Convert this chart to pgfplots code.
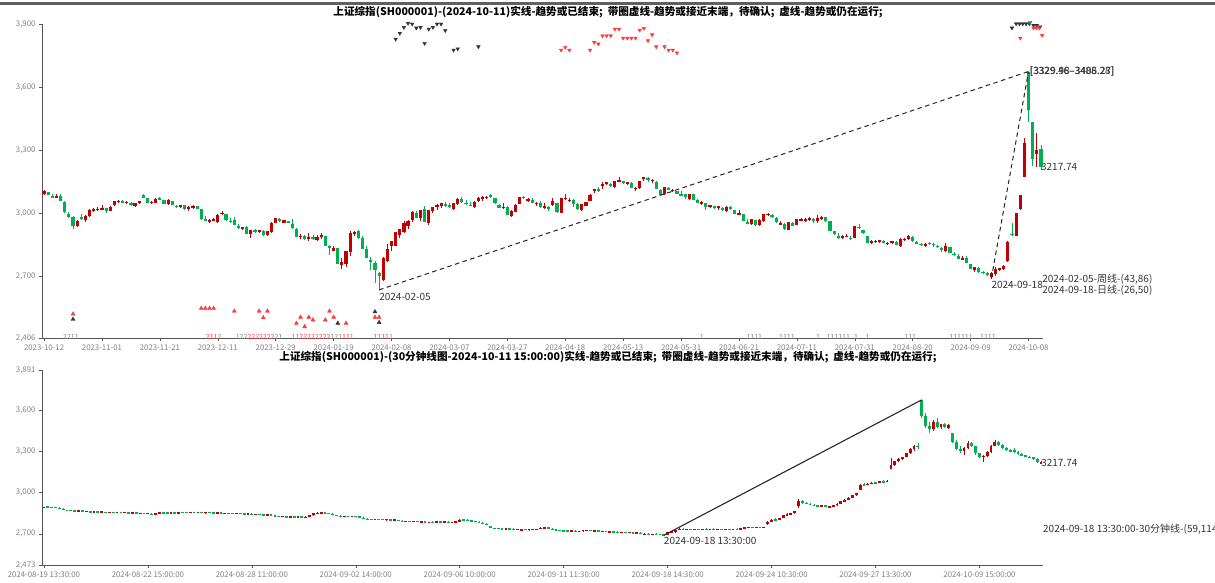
\documentclass[border=0pt]{standalone}
\usepackage{pgfplots}
\pgfplotsset{compat=1.18}
\usepackage{pgfplotstable}
\usepackage{fontspec}
\setmainfont{Noto Sans CJK SC}
\definecolor{cup}{HTML}{C00000}
\definecolor{cdn}{HTML}{00B050}
\definecolor{mred}{HTML}{FF3B3B}
\definecolor{mblk}{HTML}{333333}
\definecolor{axgray}{HTML}{555555}
\definecolor{lblgray}{HTML}{808080}
\definecolor{txt}{HTML}{333333}

% daily candles: index (trading day since 2023-10-12), open, high, low, close
\pgfplotstableread{
i o h l c
0 3089 3108 3085 3107
1 3102 3103 3085 3088
2 3083 3092 3071 3074
3 3073 3091 3070 3084
4 3083 3089 3057 3058
5 3051 3060 3003 3005
6 2998 3004 2975 2983
7 2983 2988 2923 2939
8 2939 2969 2933 2962
9 2983 2994 2967 2974
10 2968 2993 2960 2988
11 2986 3022 2983 3017
12 3009 3025 3005 3021
13 3018 3030 3010 3018
14 3021 3037 3013 3023
15 3024 3026 3003 3009
16 3011 3034 3008 3030
17 3040 3060 3036 3058
18 3056 3062 3047 3057
19 3055 3063 3050 3052
20 3050 3059 3045 3053
21 3050 3055 3036 3038
22 3034 3049 3027 3046
23 3046 3059 3045 3056
24 3085 3089 3072 3073
25 3070 3073 3049 3050
26 3048 3056 3042 3054
27 3050 3073 3049 3068
28 3069 3078 3065 3068
29 3063 3064 3043 3044
30 3044 3068 3040 3062
31 3059 3060 3040 3041
32 3035 3039 3023 3031
33 3030 3040 3025 3038
34 3040 3041 3016 3021
35 3018 3035 3010 3030
36 3026 3039 3022 3032
37 3032 3035 3021 3022
38 3018 3019 2968 2972
39 2970 2988 2963 2966
40 2964 2974 2954 2966
41 2965 2976 2961 2970
42 2960 2996 2955 2991
43 2996 3008 2989 3003
44 2994 2997 2965 2968
45 2965 2979 2953 2958
46 2966 2982 2942 2942
47 2940 2947 2926 2930
48 2925 2936 2921 2932
49 2934 2939 2902 2902
50 2900 2921 2882 2918
51 2918 2925 2906 2914
52 2913 2920 2905 2918
53 2917 2920 2893 2898
54 2896 2915 2889 2915
55 2909 2957 2906 2954
56 2953 2976 2952 2975
57 2972 2977 2960 2962
58 2955 2969 2952 2967
59 2963 2965 2952 2954
60 2950 2974 2924 2929
61 2925 2928 2885 2888
62 2887 2900 2878 2893
63 2892 2894 2872 2878
64 2877 2904 2869 2886
65 2885 2898 2874 2882
66 2871 2898 2869 2886
67 2886 2906 2878 2894
68 2889 2890 2844 2845
69 2843 2847 2803 2833
70 2822 2844 2818 2832
71 2832 2833 2756 2756
72 2755 2785 2736 2770
73 2759 2821 2745 2820
74 2814 2913 2798 2906
75 2899 2913 2889 2910
76 2914 2918 2879 2883
77 2880 2890 2830 2831
78 2829 2845 2788 2789
79 2779 2790 2730 2770
80 2761 2772 2666 2730
81 2713 2722 2635 2702
82 2680 2792 2677 2789
83 2772 2852 2770 2829
84 2842 2867 2821 2866
85 2843 2910 2842 2910
86 2895 2923 2883 2923
87 2911 2963 2904 2951
88 2941 2966 2927 2964
89 2966 3012 2957 3004
90 2999 3009 2977 2977
91 2975 3016 2964 3015
92 3019 3033 2957 2957
93 2953 3015 2946 3015
94 3010 3029 3002 3027
95 3031 3042 3016 3039
96 3034 3050 3025 3048
97 3042 3052 3029 3040
98 3041 3048 3025 3027
99 3021 3047 3014 3046
100 3043 3071 3039 3068
101 3068 3075 3047 3055
102 3050 3063 3040 3044
103 3040 3052 3034 3038
104 3027 3058 3025 3054
105 3058 3077 3055 3073
106 3066 3080 3060 3079
107 3075 3082 3066 3077
108 3088 3091 3070 3077
109 3072 3074 3043 3048
110 3041 3045 3025 3026
111 3023 3046 3020 3031
112 3030 3036 2993 2993
113 2988 3014 2980 3010
114 3005 3044 3004 3041
115 3044 3077 3043 3077
116 3076 3082 3066 3074
117 3060 3074 3055 3069
118 3062 3071 3046 3048
119 3044 3055 3036 3048
120 3048 3057 3025 3027
121 3023 3046 3021 3034
122 3028 3035 3009 3019
123 3039 3070 3033 3057
124 3048 3048 3002 3007
125 3003 3071 3003 3071
126 3070 3093 3065 3074
127 3060 3072 3052 3065
128 3062 3066 3030 3045
129 3045 3047 3014 3022
130 3017 3045 3010 3044
131 3035 3053 3034 3052
132 3060 3092 3058 3088
133 3104 3114 3095 3113
134 3113 3123 3099 3105
135 3128 3147 3117 3141
136 3142 3149 3135 3148
137 3138 3142 3125 3128
138 3124 3154 3120 3154
139 3155 3170 3150 3155
140 3150 3154 3141 3148
141 3143 3149 3135 3145
142 3144 3150 3119 3119
143 3116 3125 3105 3122
144 3121 3154 3117 3154
145 3164 3174 3155 3171
146 3165 3170 3150 3157
147 3154 3162 3145 3158
148 3150 3152 3115 3116
149 3110 3116 3086 3088
150 3093 3125 3088 3125
151 3121 3124 3108 3110
152 3108 3117 3100 3111
153 3104 3104 3089 3092
154 3090 3106 3083 3087
155 3090 3092 3068 3078
156 3068 3091 3062 3091
157 3089 3092 3065 3065
158 3063 3067 3047 3048
159 3046 3058 3041 3051
160 3047 3050 3017 3028
161 3030 3040 3025 3037
162 3033 3036 3021 3029
163 3025 3034 3016 3033
164 3025 3029 3009 3015
165 3012 3032 3006 3030
166 3031 3033 3013 3018
167 3016 3017 2998 2998
168 2995 3016 2990 2998
169 2994 2997 2962 2963
170 2958 2970 2949 2950
171 2947 2974 2943 2972
172 2966 2968 2941 2946
173 2944 2971 2941 2967
174 2961 2996 2957 2995
175 2992 3000 2986 2998
176 2990 2996 2979 2982
177 2976 2980 2954 2957
178 2950 2963 2944 2950
179 2950 2953 2922 2923
180 2921 2960 2921 2960
181 2955 2958 2937 2939
182 2943 2971 2942 2970
183 2968 2979 2961 2971
184 2963 2976 2959 2974
185 2972 2980 2965 2976
186 2970 2977 2955 2962
187 2962 2991 2955 2977
188 2971 2988 2966 2982
189 2980 2982 2958 2964
190 2962 2963 2913 2915
191 2913 2915 2895 2901
192 2890 2906 2878 2886
193 2883 2898 2876 2890
194 2889 2900 2886 2891
195 2884 2893 2874 2879
196 2881 2940 2880 2938
197 2935 2947 2926 2932
198 2919 2922 2902 2905
199 2889 2890 2859 2860
200 2857 2872 2853 2868
201 2865 2874 2857 2869
202 2862 2873 2856 2870
203 2868 2874 2860 2862
204 2857 2863 2849 2858
205 2856 2869 2854 2868
206 2865 2868 2850 2850
207 2846 2882 2841 2877
208 2871 2884 2866 2879
209 2878 2896 2874 2893
210 2888 2891 2865 2866
211 2860 2868 2854 2857
212 2854 2859 2844 2849
213 2844 2859 2839 2855
214 2858 2864 2850 2855
215 2855 2860 2841 2848
216 2846 2849 2836 2837
217 2832 2839 2815 2823
218 2819 2856 2817 2842
219 2838 2840 2810 2811
220 2805 2814 2798 2802
221 2795 2804 2780 2784
222 2780 2795 2777 2788
223 2786 2795 2764 2765
224 2759 2760 2733 2736
225 2729 2746 2720 2744
226 2738 2742 2717 2721
227 2722 2725 2710 2717
228 2716 2720 2703 2704
229 2697 2720 2689 2717
230 2712 2742 2703 2736
231 2736 2741 2726 2736
232 2734 2751 2730 2748
233 2771 2866 2767 2863
234 2901 2952 2889 2896
235 2893 3000 2889 3000
236 3018 3088 3017 3087
237 3174 3359 3174 3336
238 3674 3674 3432 3489
239 3434 3434 3225 3258
240 3280 3381 3219 3301
241 3307 3323 3205 3218
}\daily

% 30-minute candles: index (bar since 2024-08-19 13:30), open, high, low, close
\pgfplotstableread{
i o h l c
0 2894 2897 2891 2896
1 2896 2898 2893 2895
2 2895 2897 2892 2894
3 2894 2896 2890 2893
4 2890 2893 2880 2882
5 2882 2884 2872 2874
6 2874 2876 2868 2870
7 2870 2873 2866 2869
8 2869 2871 2864 2867
9 2867 2870 2864 2868
10 2868 2870 2863 2865
11 2865 2868 2863 2866
12 2864 2866 2858 2860
13 2860 2863 2857 2861
14 2861 2863 2858 2859
15 2859 2862 2857 2860
16 2860 2862 2857 2858
17 2858 2861 2856 2859
18 2859 2861 2856 2857
19 2857 2860 2855 2858
20 2857 2859 2853 2855
21 2855 2858 2853 2856
22 2856 2858 2852 2853
23 2853 2856 2851 2854
24 2854 2856 2849 2850
25 2850 2853 2847 2851
26 2851 2853 2846 2848
27 2848 2852 2845 2849
28 2846 2848 2840 2843
29 2843 2849 2841 2847
30 2845 2858 2844 2856
31 2856 2859 2851 2853
32 2853 2856 2850 2852
33 2852 2855 2849 2854
34 2854 2857 2851 2853
35 2853 2857 2851 2855
36 2857 2860 2853 2856
37 2856 2859 2852 2854
38 2854 2858 2852 2857
39 2857 2860 2854 2855
40 2855 2858 2853 2856
41 2856 2859 2853 2854
42 2854 2857 2852 2856
43 2856 2858 2853 2855
44 2855 2858 2852 2853
45 2853 2856 2850 2854
46 2854 2856 2850 2851
47 2851 2854 2848 2852
48 2852 2854 2848 2850
49 2850 2853 2847 2849
50 2849 2852 2846 2850
51 2850 2852 2846 2848
52 2847 2849 2843 2845
53 2845 2848 2842 2846
54 2846 2848 2841 2843
55 2843 2846 2840 2844
56 2844 2846 2838 2840
57 2840 2843 2836 2838
58 2838 2841 2835 2839
59 2839 2841 2835 2837
60 2834 2836 2826 2828
61 2828 2831 2824 2826
62 2826 2829 2823 2827
63 2827 2829 2822 2824
64 2824 2828 2822 2826
65 2826 2828 2821 2823
66 2823 2827 2821 2825
67 2825 2827 2820 2823
68 2821 2826 2817 2824
69 2824 2836 2822 2834
70 2834 2850 2832 2848
71 2848 2856 2845 2853
72 2853 2857 2849 2855
73 2855 2857 2850 2852
74 2852 2854 2843 2845
75 2845 2848 2840 2842
76 2838 2840 2830 2832
77 2832 2834 2826 2828
78 2828 2831 2825 2829
79 2829 2831 2825 2827
80 2827 2830 2825 2828
81 2828 2830 2824 2826
82 2826 2828 2815 2817
83 2817 2819 2810 2811
84 2808 2812 2803 2806
85 2806 2809 2802 2804
86 2804 2808 2801 2806
87 2806 2810 2803 2805
88 2805 2808 2801 2803
89 2803 2807 2800 2805
90 2805 2807 2801 2802
91 2802 2806 2799 2803
92 2800 2802 2792 2794
93 2794 2797 2790 2792
94 2792 2795 2788 2793
95 2793 2795 2789 2790
96 2790 2793 2786 2791
97 2791 2793 2786 2788
98 2788 2791 2784 2789
99 2789 2791 2782 2784
100 2783 2789 2780 2787
101 2787 2790 2783 2785
102 2785 2789 2782 2788
103 2788 2791 2784 2786
104 2786 2789 2782 2787
105 2787 2790 2783 2785
106 2785 2788 2781 2786
107 2786 2790 2784 2788
108 2790 2806 2788 2803
109 2803 2807 2798 2801
110 2801 2804 2794 2796
111 2796 2799 2790 2792
112 2792 2795 2786 2788
113 2788 2790 2780 2782
114 2782 2785 2772 2774
115 2774 2777 2763 2765
116 2759 2760 2740 2742
117 2742 2745 2736 2740
118 2740 2743 2735 2739
119 2739 2742 2735 2737
120 2737 2741 2733 2738
121 2738 2741 2734 2736
122 2736 2739 2732 2735
123 2735 2738 2733 2736
124 2730 2735 2720 2732
125 2732 2736 2728 2731
126 2731 2735 2727 2733
127 2733 2737 2729 2734
128 2734 2738 2730 2736
129 2736 2746 2734 2744
130 2744 2747 2740 2745
131 2745 2747 2741 2744
132 2738 2742 2728 2730
133 2730 2733 2725 2727
134 2727 2730 2722 2724
135 2724 2727 2719 2722
136 2722 2725 2717 2720
137 2720 2724 2717 2722
138 2722 2724 2718 2719
139 2719 2723 2717 2721
140 2722 2728 2718 2726
141 2726 2729 2722 2727
142 2727 2729 2721 2723
143 2723 2726 2719 2724
144 2724 2726 2717 2719
145 2719 2722 2714 2720
146 2720 2722 2715 2716
147 2716 2719 2712 2717
148 2716 2720 2711 2714
149 2714 2717 2710 2712
150 2712 2715 2708 2713
151 2713 2715 2709 2710
152 2710 2713 2706 2711
153 2711 2713 2706 2707
154 2707 2710 2704 2708
155 2708 2710 2703 2704
156 2697 2703 2693 2700
157 2700 2704 2696 2698
158 2698 2702 2694 2700
159 2700 2703 2695 2697
160 2697 2700 2692 2695
161 2695 2698 2689 2693
162 2693 2712 2692 2710
163 2710 2720 2706 2717
164 2712 2730 2703 2726
165 2726 2742 2724 2738
166 2738 2741 2731 2733
167 2733 2736 2729 2735
168 2735 2738 2731 2733
169 2733 2736 2729 2734
170 2734 2737 2731 2732
171 2732 2737 2730 2736
172 2736 2740 2732 2734
173 2734 2738 2731 2736
174 2736 2739 2732 2733
175 2733 2737 2730 2735
176 2735 2738 2731 2732
177 2732 2736 2728 2734
178 2734 2737 2730 2733
179 2733 2738 2731 2736
180 2734 2740 2730 2732
181 2732 2742 2730 2740
182 2740 2748 2738 2746
183 2746 2752 2743 2749
184 2749 2752 2744 2746
185 2746 2750 2742 2748
186 2748 2751 2743 2745
187 2745 2751 2743 2748
188 2771 2790 2767 2786
189 2786 2806 2783 2803
190 2803 2812 2795 2799
191 2799 2818 2797 2815
192 2815 2838 2812 2835
193 2835 2848 2830 2844
194 2844 2852 2838 2848
195 2848 2866 2845 2863
196 2901 2952 2889 2940
197 2940 2944 2920 2925
198 2925 2930 2914 2918
199 2918 2922 2906 2910
200 2910 2914 2902 2905
201 2905 2909 2898 2903
202 2903 2910 2896 2908
203 2908 2911 2893 2896
204 2893 2905 2889 2902
205 2902 2912 2898 2909
206 2909 2925 2905 2920
207 2920 2940 2917 2936
208 2936 2952 2930 2948
209 2948 2966 2945 2962
210 2962 2985 2958 2980
211 2980 3000 2976 3000
212 3018 3062 3017 3058
213 3058 3066 3048 3055
214 3055 3068 3052 3065
215 3065 3078 3060 3073
216 3073 3080 3066 3069
217 3069 3085 3066 3081
218 3081 3088 3074 3078
219 3078 3089 3075 3087
220 3174 3250 3170 3200
221 3200 3232 3190 3228
222 3228 3250 3220 3245
223 3245 3262 3238 3258
224 3258 3290 3255 3285
225 3285 3322 3280 3315
226 3315 3345 3305 3338
227 3338 3359 3320 3336
228 3674 3674 3540 3560
229 3560 3575 3470 3485
230 3485 3510 3432 3460
231 3460 3530 3450 3515
232 3515 3540 3470 3478
233 3478 3500 3465 3495
234 3495 3505 3470 3476
235 3470 3500 3465 3489
236 3434 3434 3360 3370
237 3370 3380 3310 3318
238 3318 3335 3290 3300
239 3300 3330 3270 3325
240 3325 3372 3318 3362
241 3362 3368 3330 3335
242 3335 3340 3275 3285
243 3285 3290 3250 3258
244 3260 3275 3219 3268
245 3268 3300 3262 3295
246 3295 3345 3290 3340
247 3340 3381 3335 3370
248 3370 3374 3340 3345
249 3345 3350 3320 3325
250 3325 3330 3305 3310
251 3310 3315 3296 3301
252 3307 3323 3290 3295
253 3295 3300 3275 3280
254 3280 3288 3265 3270
255 3270 3275 3255 3262
256 3262 3268 3250 3255
257 3255 3260 3240 3245
258 3245 3250 3218 3220
259 3215 3228 3205 3218
}\mins

\pgfplotsset{
  kaxis/.style={
    scale only axis, width=1001pt,
    axis x line*=bottom, axis y line*=left,
    axis line style={axgray, line width=0.6pt},
    every tick/.style={axgray, line width=0.5pt},
    major tick length=3pt, tick align=outside,
    ticklabel style={font=\fontsize{7.8}{9}\selectfont, text=lblgray},
    clip=false,
  },
  candle/.style 2 args={draw=none, mark=none, forget plot,
    error bars/y dir=both, error bars/y explicit, error bars/error mark=none,
    error bars/error bar style={line width=#2, draw=#1, solid}},
}
\newcommand{\anfont}{\fontsize{10}{12}\selectfont}
\newcommand{\nfont}{\fontsize{7}{8}\selectfont}

\begin{document}
\begin{tikzpicture}
\useasboundingbox (0,0) rectangle (1215pt,-582pt);
\draw[line width=3pt, color=gray!75!black] (0,-3pt) -- (1215pt,-3pt);

\node[font=\fontsize{10.6}{12}\selectfont\bfseries, text=black] at (608pt,-12pt)
  {上证综指(SH000001)-(2024-10-11)实线-趋势或已结束; \ 带圈虚线-趋势或接近末端，待确认; \ 虚线-趋势或仍在运行;};
\node[font=\fontsize{10.6}{12}\selectfont\bfseries, text=black] at (608pt,-357pt)
  {上证综指(SH000001)-(30分钟线图-2024-10-11 15:00:00)实线-趋势或已结束; \ 带圈虚线-趋势或接近末端，待确认; \ 虚线-趋势或仍在运行;};

%================ TOP: daily =================
\begin{axis}[kaxis,
  at={(42pt,-338pt)}, anchor=south west, height=314pt,
  xmin=-0.5, xmax=241.5, ymin=2406, ymax=3900,
  xtick={0,14,...,238},
  xticklabels={2023-10-12,2023-11-01,2023-11-21,2023-12-11,2023-12-29,2024-01-19,2024-02-08,2024-03-07,2024-03-27,2024-04-18,2024-05-13,2024-05-31,2024-06-21,2024-07-11,2024-07-31,2024-08-20,2024-09-09,2024-10-08},
  ytick={2406,2700,3000,3300,3600,3900},
  yticklabels={{2,406},{2,700},{3,000},{3,300},{3,600},{3,900}},
]
% wicks
\addplot[candle={cup}{0.8pt}]
  table[x=i, y expr={\thisrow{c}<\thisrow{o} ? nan : (\thisrow{h}+\thisrow{l})/2}, y error expr={(\thisrow{h}-\thisrow{l})/2}] {\daily};
\addplot[candle={cdn}{0.8pt}]
  table[x=i, y expr={\thisrow{c}<\thisrow{o} ? (\thisrow{h}+\thisrow{l})/2 : nan}, y error expr={(\thisrow{h}-\thisrow{l})/2}] {\daily};
% bodies
\addplot[candle={cup}{3.2pt}]
  table[x=i, y expr={\thisrow{c}<\thisrow{o} ? nan : (\thisrow{o}+\thisrow{c})/2}, y error expr={max(abs(\thisrow{c}-\thisrow{o})/2,2)}] {\daily};
\addplot[candle={cdn}{3.2pt}]
  table[x=i, y expr={\thisrow{c}<\thisrow{o} ? (\thisrow{o}+\thisrow{c})/2 : nan}, y error expr={max(abs(\thisrow{c}-\thisrow{o})/2,2)}] {\daily};

% trend lines
\addplot[black!85, line width=1pt, dash pattern=on 4.5pt off 3.5pt] coordinates {(81,2635) (238,3674)};
\addplot[black!85, line width=1pt, dash pattern=on 4.5pt off 3.5pt] coordinates {(229,2689) (238,3674)};

% down-triangle markers (top)
\addplot[only marks, mark=triangle*, mark size=2.1pt, mark options={rotate=180, fill=mblk, draw=mblk}] coordinates {
(85,3828) (86,3856) (87,3884) (88,3903) (89,3900) (90,3881) (91,3884) (92,3808) (93,3876) (94,3884) (95,3900) (96,3900) (97,3869) (99,3776) (100,3782) (105,3792)
(234,3881) (235,3901) (235.8,3901) (236.6,3901) (237.4,3901) (238.2,3901) (239.2,3894) (240,3894) (240.8,3886)};
\addplot[only marks, mark=triangle*, mark size=2.1pt, mark options={rotate=180, fill=mred, draw=mred}] coordinates {
(125,3776) (126,3789) (127,3776) (132,3776) (133,3813) (134,3805) (135,3844) (136,3844) (137,3844) (138,3876) (139,3876) (140,3833) (141,3833) (142,3833) (143,3833) (144,3871) (145,3879) (146,3821) (147,3849) (148,3792) (150,3792) (151,3776) (152,3776) (153,3763)
(236,3833) (239.2,3881) (239.9,3881) (240.6,3881) (241.3,3846)};
\addplot[only marks, mark=triangle*, mark size=2.1pt, mark options={rotate=180, fill=cdn, draw=cdn}] coordinates {(238.4,3908)};
% up-triangle markers (bottom)
\addplot[only marks, mark=triangle*, mark size=2.3pt, mark options={fill=mred, draw=mred}] coordinates {
(7,2520) (38,2547) (39,2547) (40,2547) (41,2547) (46,2534) (52,2534) (53,2503) (54,2534)
(61,2476) (62,2505) (63,2460) (64,2505) (65,2492) (68,2492) (69,2534) (70,2505) (73,2476) (80,2505) (81,2505)};
\addplot[only marks, mark=triangle*, mark size=2.3pt, mark options={fill=mblk, draw=mblk}] coordinates {
(7,2495) (71,2476) (80,2531) (81,2480)};

% small count labels on the axis
\begin{scope}[every node/.style={anchor=south, inner sep=0pt, font=\nfont, text=lblgray, yshift=-1.5pt}]
\node at (axis cs:6.5,2406) {2211};
\node at (axis cs:41,2406) {\textcolor{mred}{211}2};
\node at (axis cs:52,2406) {122\textcolor{mred}{2222222}21};
\node at (axis cs:65.5,2406) {11\textcolor{mred}{22222222}12};
\node at (axis cs:73,2406) {1\textcolor{mred}{11}1};
\node at (axis cs:82,2406) {11\textcolor{mred}{11}1};
\node at (axis cs:159,2406) {1};
\node at (axis cs:171.7,2406) {1111};
\node at (axis cs:179.6,2406) {1111};
\node at (axis cs:187.1,2406) {1};
\node at (axis cs:192,2406) {111111};
\node at (axis cs:196.3,2406) {1};
\node at (axis cs:199,2406) {1};
\node at (axis cs:209.4,2406) {111};
\node at (axis cs:221.7,2406) {111111};
\node at (axis cs:228.2,2406) {1111};
\end{scope}

% annotations
\node[anchor=north west, inner sep=0pt, font=\anfont, text=txt, yshift=-3pt] at (axis cs:81,2635) {2024-02-05};
\node[anchor=north west, inner sep=0pt, font=\anfont, text=txt, yshift=-3pt] at (axis cs:229,2689) {2024-09-18};
\node[anchor=west, inner sep=0pt, font=\anfont, text=txt, xshift=1pt] at (axis cs:238,3674) {[3329.46--3488.28]};
\node[anchor=west, inner sep=0pt, font=\anfont, text=txt, xshift=1.5pt] at (axis cs:238,3674) {[3329.98--3406.27]};
\node[anchor=west, inner sep=0pt, font=\anfont, text=txt] at (axis cs:241,3218) {3217.74};
\node[anchor=west, inner sep=0pt, font=\anfont, text=txt] at (axis cs:241.3,2687) {2024-02-05-周线-(43,86)};
\node[anchor=west, inner sep=0pt, font=\anfont, text=txt] at (axis cs:241.3,2634) {2024-09-18-日线-(26,50)};
\end{axis}

%================ BOTTOM: 30 minute =================
\begin{axis}[kaxis,
  at={(42pt,-565pt)}, anchor=south west, height=195pt,
  xmin=-0.5, xmax=259.5, ymin=2473, ymax=3891,
  xtick={0,27,...,243},
  xticklabels={2024-08-19 13:30:00,2024-08-22 15:00:00,2024-08-28 11:00:00,2024-09-02 14:00:00,2024-09-06 10:00:00,2024-09-11 11:30:00,2024-09-18 14:30:00,2024-09-24 10:30:00,2024-09-27 13:30:00,2024-10-09 15:00:00},
  ytick={2473,2700,3000,3300,3600,3891},
  yticklabels={{2,473},{2,700},{3,000},{3,300},{3,600},{3,891}},
]
\addplot[candle={cup}{0.7pt}]
  table[x=i, y expr={\thisrow{c}<\thisrow{o} ? nan : (\thisrow{h}+\thisrow{l})/2}, y error expr={(\thisrow{h}-\thisrow{l})/2}] {\mins};
\addplot[candle={cdn}{0.7pt}]
  table[x=i, y expr={\thisrow{c}<\thisrow{o} ? (\thisrow{h}+\thisrow{l})/2 : nan}, y error expr={(\thisrow{h}-\thisrow{l})/2}] {\mins};
\addplot[candle={cup}{2.8pt}]
  table[x=i, y expr={\thisrow{c}<\thisrow{o} ? nan : (\thisrow{o}+\thisrow{c})/2}, y error expr={max(abs(\thisrow{c}-\thisrow{o})/2,3)}] {\mins};
\addplot[candle={cdn}{2.8pt}]
  table[x=i, y expr={\thisrow{c}<\thisrow{o} ? (\thisrow{o}+\thisrow{c})/2 : nan}, y error expr={max(abs(\thisrow{c}-\thisrow{o})/2,3)}] {\mins};

\addplot[black!85, line width=1.1pt] coordinates {(161,2689) (228,3674)};

\node[anchor=north west, inner sep=0pt, font=\anfont, text=txt, yshift=-2pt] at (axis cs:161,2689) {2024-09-18 13:30:00};
\node[anchor=west, inner sep=0pt, font=\anfont, text=txt] at (axis cs:259,3218) {3217.74};
\node[anchor=west, inner sep=0pt, font=\anfont, text=txt] at (axis cs:259.5,2735) {2024-09-18 13:30:00-30分钟线-(59,114)};
\end{axis}
\end{tikzpicture}
\end{document}
